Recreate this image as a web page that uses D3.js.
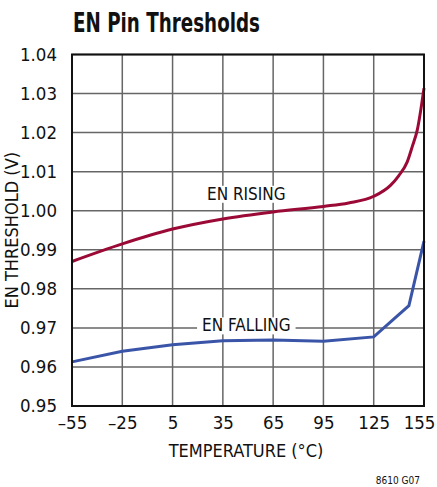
<!DOCTYPE html>
<html>
<head>
<meta charset="utf-8">
<script src="https://cdn.jsdelivr.net/npm/d3@7"></script>
<style>
  body { margin: 0; background: #fff; }
  text { font-family: "Liberation Sans Narrow", "DejaVu Sans Condensed", "Liberation Sans", sans-serif; font-stretch: condensed; fill: #111; }
</style>
</head>
<body>
<div id="chart"></div>
<script>
// Values
const xTicks = [-55, -25, 5, 35, 65, 95, 125, 155];
const yTicks = [0.95, 0.96, 0.97, 0.98, 0.99, 1.00, 1.01, 1.02, 1.03, 1.04];

const risingTemp = [-55, -25, 5, 35, 65, 95, 110, 125, 135, 140, 145, 148, 151, 155];
const risingV    = [0.9870, 0.9915, 0.9953, 0.9979, 0.9997, 1.0011, 1.0020, 1.0037, 1.0065, 1.0090, 1.0125, 1.0164, 1.0207, 1.0314];

const fallingTemp = [-55, -25, 5, 35, 65, 95, 125, 146, 155];
const fallingV    = [0.9613, 0.9640, 0.9657, 0.9667, 0.9669, 0.9666, 0.9677, 0.9757, 0.9922];

const W = 437, H = 487;
const margin = { top: 54.5, right: 13, bottom: 81, left: 72 };
const width = W - margin.left - margin.right;
const height = H - margin.top - margin.bottom;

const svg = d3.select("#chart").append("svg")
    .attr("width", W)
    .attr("height", H);

// Title
svg.append("text")
    .attr("x", 73)
    .attr("y", 32)
    .attr("font-size", 26)
    .attr("font-weight", "bold")
    .attr("textLength", 187)
    .attr("lengthAdjust", "spacingAndGlyphs")
    .text("EN Pin Thresholds");

const g = svg.append("g")
    .attr("transform", `translate(${margin.left},${margin.top})`);

const x = d3.scaleLinear().domain([-55, 155]).range([0, width]);
const y = d3.scaleLinear().domain([0.95, 1.04]).range([height, 0]);

// Grid lines
g.append("g").selectAll("line").data(xTicks).join("line")
    .attr("x1", d => x(d)).attr("x2", d => x(d))
    .attr("y1", 0).attr("y2", height)
    .attr("stroke", "#666").attr("stroke-width", 1.5);

g.append("g").selectAll("line").data(yTicks).join("line")
    .attr("x1", 0).attr("x2", width)
    .attr("y1", d => y(d)).attr("y2", d => y(d))
    .attr("stroke", "#666").attr("stroke-width", 1.5);

// Axes (labels only, frame drawn below)
const xAxis = g.append("g")
    .attr("transform", `translate(0,${height})`)
    .call(d3.axisBottom(x).tickValues(xTicks).tickSize(0).tickPadding(10)
        .tickFormat(d => d < 0 ? "\u2013" + Math.abs(d) : d));
xAxis.select(".domain").remove();
xAxis.selectAll("text").attr("font-size", 18.5).attr("fill", "#111").attr("font-family", null);
xAxis.selectAll("text").filter(d => d === 155).attr("dx", -5);

const yAxis = g.append("g")
    .call(d3.axisLeft(y).tickValues(yTicks).tickSize(0).tickPadding(15)
        .tickFormat(d3.format(".2f")));
yAxis.select(".domain").remove();
yAxis.selectAll("text").attr("font-size", 18.5).attr("fill", "#111").attr("font-family", null);

// Series
const risingData = risingTemp.map((t, i) => ({ t, v: risingV[i] }));
const fallingData = fallingTemp.map((t, i) => ({ t, v: fallingV[i] }));

const smooth = d3.line().x(d => x(d.t)).y(d => y(d.v)).curve(d3.curveMonotoneX);
const straight = d3.line().x(d => x(d.t)).y(d => y(d.v));

g.append("path").datum(risingData)
    .attr("fill", "none").attr("stroke", "#9b0a36").attr("stroke-width", 3)
    .attr("d", smooth);

g.append("path").datum(fallingData)
    .attr("fill", "none").attr("stroke", "#3a55a8").attr("stroke-width", 3)
    .attr("d", straight);

// Curve labels with white background
function label(text, cx, cy) {
    const t = g.append("text")
        .attr("x", cx).attr("y", cy)
        .attr("text-anchor", "middle")
        .attr("font-size", 17)
        .text(text);
    const b = t.node().getBBox();
    g.insert("rect", () => t.node())
        .attr("x", b.x - 5).attr("y", b.y + 2)
        .attr("width", b.width + 10).attr("height", b.height - 3)
        .attr("fill", "#fff");
}

label("EN RISING", x(49), y(1.0028));
label("EN FALLING", x(49), y(0.9668) - 9);

// Frame
g.append("rect")
    .attr("width", width).attr("height", height)
    .attr("fill", "none").attr("stroke", "#111").attr("stroke-width", 2);

// Axis titles
svg.append("text")
    .attr("x", margin.left + width / 2 - 2)
    .attr("y", 457)
    .attr("text-anchor", "middle")
    .attr("font-size", 18)
    .text("TEMPERATURE (°C)");

svg.append("text")
    .attr("transform", `translate(18,${margin.top + height / 2}) rotate(-90)`)
    .attr("text-anchor", "middle")
    .attr("font-size", 18)
    .text("EN THRESHOLD (V)");

svg.append("text")
    .attr("x", 420)
    .attr("y", 484)
    .attr("text-anchor", "end")
    .attr("font-size", 10)
    .text("8610 G07");
</script>
</body>
</html>
